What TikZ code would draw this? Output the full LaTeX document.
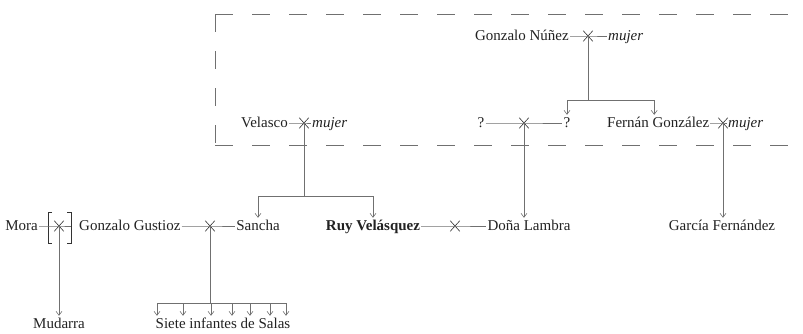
\documentclass[tikz,border=0pt]{standalone}
\usepackage{fontspec}
\setmainfont{Liberation Serif}
\usetikzlibrary{arrows.meta,shapes.misc}
\definecolor{inkgray}{HTML}{222222}
\definecolor{linegray}{HTML}{707070}
\begin{document}
\begin{tikzpicture}[x=1pt,y=-1pt]
  \tikzstyle{fam_name}       = [inner sep=1pt, text=inkgray, text height=11pt, text depth=3pt, font=\fontsize{15}{18}\selectfont]
  \tikzstyle{fam_name__bold} = [fam_name, font=\fontsize{15}{18}\selectfont\bfseries]
  \tikzstyle{fam_wife}       = [fam_name, font=\fontsize{15}{18}\selectfont\itshape]
  \tikzstyle{fam_wed}        = [shape = cross out, draw = black!80, line width=0.6pt, minimum width=9pt, minimum height=10pt, inner sep=0pt]
  \tikzstyle{fam_line}       = [draw = linegray, line width=0.6pt]
  \tikzstyle{fam_child}      = [fam_line, -{Straight Barb[length=4pt,width=6pt]}]
  \tikzstyle{fam_frame}      = [fam_line, line width=0.8pt, dash pattern=on 18pt off 19pt]

  \useasboundingbox (0,0) rectangle (803,333);

  % linaje castellano
  \draw[fam_frame] (215,14)  -- (810,14);
  \draw[fam_frame] (215,14)  -- (215,145);
  \draw[fam_frame] (215,145) -- (810,145);

  \node[fam_name, anchor=east] at (570, 36) (gnunez) {Gonzalo Núñez};
  \node[fam_wed]               at (588, 36) (w_gn) {};
  \node[fam_wife, anchor=west] at (607, 36) (mujer_gn) {mujer};

  \node[fam_name, anchor=east] at (289,123) (velasco) {Velasco};
  \node[fam_wed]               at (304,123) (w_vel) {};
  \node[fam_wife, anchor=west] at (311,123) (mujer_vel) {mujer};

  \node[fam_name]              at (481,123) (q_a) {?};
  \node[fam_wed]               at (524,123) (w_q) {};
  \node[fam_name]              at (567,123) (q_b) {?};

  \node[fam_name, anchor=west] at (606,123) (fernan) {Fernán González};
  \node[fam_wed]               at (723,123) (w_fg) {};
  \node[fam_wife, anchor=west] at (727,123) (mujer_fg) {mujer};

  % generacion de los infantes
  \node[fam_name, anchor=east] at ( 39,226) (mora) {Mora};
  \node[fam_wed]               at ( 59,226) (w_mora) {};
  \coordinate                  (brk_r) at ( 71,226);
  \node[fam_name, anchor=west] at ( 78,226) (gustioz) {Gonzalo Gustioz};
  \node[fam_wed]               at (210,226) (w_gs) {};
  \node[fam_name]              at (258,226) (sancha) {Sancha};
  \node[fam_name__bold]        at (373,226) (ruy) {Ruy Velásquez};
  \node[fam_wed]               at (455,226) (w_ruy) {};
  \node[fam_name]              at (529,226) (lambra) {Doña Lambra};
  \node[fam_name]              at (722,226) (garcia) {García Fernández};

  \node[fam_name]              at ( 59,324) (mudarra) {Mudarra};
  \node[fam_name]              at (223,324) (siete) {Siete infantes de Salas};

  % corchetes de Mora
  \draw[fam_line, draw=black!80] (52,212) -- (48,212) -- (48,243) -- (52,243);
  \draw[fam_line, draw=black!80] (67,212) -- (71,212) -- (71,243) -- (67,243);

  \draw[fam_line]
    (gnunez.east)  -- (w_gn.center)  -- (mujer_gn.west)
    (velasco.east) -- (w_vel.center) -- (mujer_vel.west)
    (q_a.east)     -- (w_q.center)   -- (q_b.west)
    (fernan.east)  -- (w_fg.center)  -- (mujer_fg.west)
    (mora.east)    -- (w_mora.center) -- (brk_r)
    (gustioz.east) -- (w_gs.center)  -- (sancha.west)
    (ruy.east)     -- (w_ruy.center) -- (lambra.west)
  ;

  \coordinate (b_gn)  at (588,100);
  \coordinate (b_vel) at (304,196);
  \coordinate (b_gs)  at (210,303);

  \draw[fam_line]
    (w_gn.center)  -- (b_gn)
    (w_vel.center) -- (b_vel)
    (w_gs.center)  -- (b_gs)
  ;

  \draw[fam_child] (b_gn) -| (q_b.north);
  \draw[fam_child] (b_gn) -| ([xshift=-4pt]fernan.north);
  \draw[fam_child] (b_vel) -| (sancha.north);
  \draw[fam_child] (b_vel) -| (ruy.north);
  \draw[fam_child] (w_q.center) -- (w_q |- lambra.north);
  \draw[fam_child] (w_fg.center) -- (w_fg |- garcia.north);
  \draw[fam_child] (w_mora.center) -- (w_mora |- mudarra.north);

  \foreach \x [count=\i] in {157,183,211,232,250,270,286}
    \coordinate (inf\i) at (\x,303);
  \draw[fam_line] (inf1) -- (inf7);
  \foreach \i in {1,...,7}
    \draw[fam_child] (inf\i) -- (inf\i |- siete.north);

\end{tikzpicture}
\end{document}
